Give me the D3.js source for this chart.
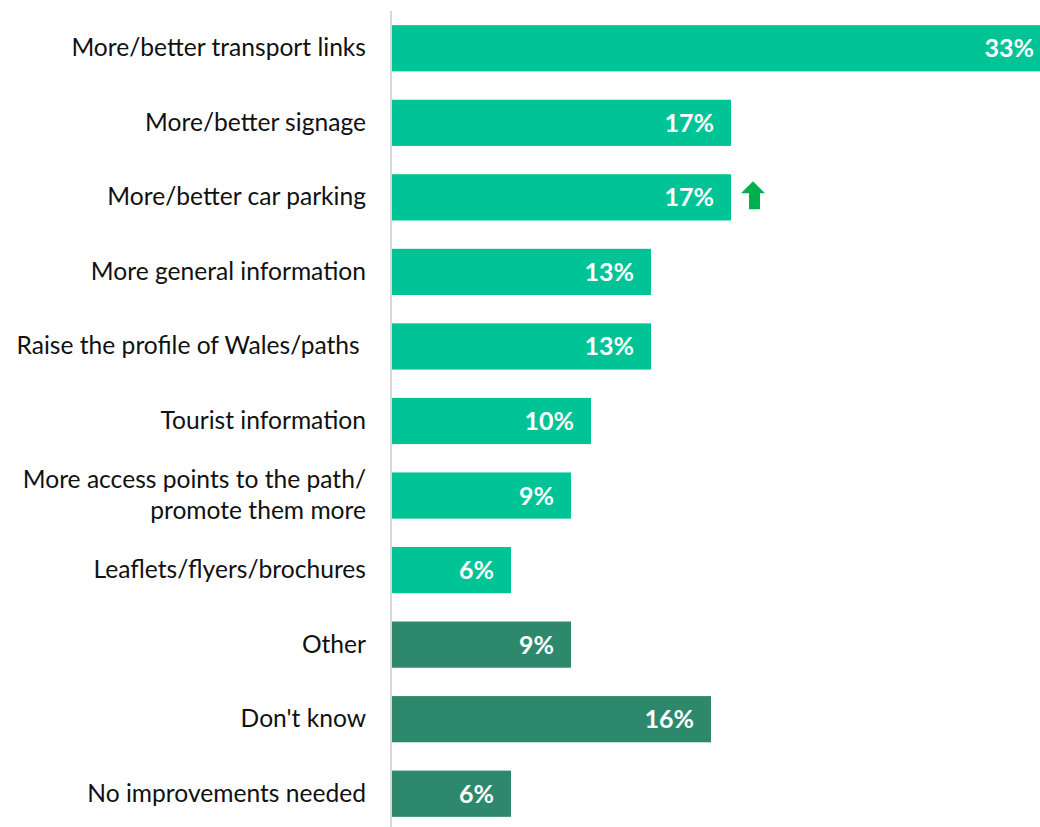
<!DOCTYPE html>
<html>
<head>
<meta charset="utf-8">
<script src="https://cdn.jsdelivr.net/npm/d3@7"></script>
<style>
  html, body { margin: 0; padding: 0; background: #fff; }
  svg { display: block; }
  .cat { font-family: Lato, "Open Sans", sans-serif; font-size: 24.6px; fill: #111; white-space: pre; }
  .val { font-family: Lato, "Open Sans", sans-serif; font-size: 25px; font-weight: 700; fill: #fff; }
</style>
</head>
<body>
<script>
// Suggested improvements and share of respondents (%)
const categories = [
  "More/better transport links",
  "More/better signage",
  "More/better car parking",
  "More general information",
  "Raise the profile of Wales/paths ",
  "Tourist information",
  "More access points to the path/\npromote them more",
  "Leaflets/flyers/brochures",
  "Other",
  "Don't know",
  "No improvements needed"
];
const values = [33, 17, 17, 13, 13, 10, 9, 6, 9, 16, 6];
const valueLabels = ["33%", "17%", "17%", "13%", "13%", "10%", "9%", "6%", "9%", "16%", "6%"];
// Group: improvement suggestions vs. other responses
const groups = ["main", "main", "main", "main", "main", "main", "main", "main", "other", "other", "other"];
// Significantly higher than previous wave
const sigUp = ["More/better car parking"];

const W = 1040, H = 827;
const axisX = 391;

const svg = d3.select("body").append("svg")
  .attr("width", W).attr("height", H);

const x = d3.scaleLinear().domain([0, 33]).range([axisX, axisX + 660]);
const y = d3.scaleBand().domain(categories).range([11, 831])
  .paddingInner(0.38).paddingOuter(0.19);
const colour = d3.scaleOrdinal().domain(["main", "other"]).range(["#00c496", "#2e896c"]);

const data = categories.map((c, i) => ({ cat: c, v: values[i], lab: valueLabels[i], g: groups[i] }));

// bars
svg.append("g").selectAll("rect").data(data).join("rect")
  .attr("x", x(0) + 1)
  .attr("y", d => y(d.cat))
  .attr("width", d => x(d.v) - x(0) - 1)
  .attr("height", y.bandwidth())
  .attr("fill", d => colour(d.g));

// vertical axis line
svg.append("line")
  .attr("x1", axisX).attr("x2", axisX)
  .attr("y1", 11).attr("y2", H)
  .attr("stroke", "#d9d9d9").attr("stroke-width", 2);

// category labels
const lineH = 31;
svg.append("g").selectAll("text").data(data).join("text")
  .attr("class", "cat")
  .attr("text-anchor", "end")
  .attr("x", 366)
  .attr("y", d => y(d.cat) + y.bandwidth() / 2)
  .each(function (d) {
    const lines = d.cat.split("\n");
    const t = d3.select(this);
    lines.forEach((ln, k) => {
      t.append("tspan")
        .attr("x", 366)
        .attr("dy", k === 0 ? ((-(lines.length - 1) / 2) * lineH + 8) : lineH)
        .text(ln);
    });
  });

// value labels inside bars
svg.append("g").selectAll("text").data(data).join("text")
  .attr("class", "val")
  .attr("text-anchor", "end")
  .attr("x", d => x(d.v) - 17)
  .attr("y", d => y(d.cat) + y.bandwidth() / 2 + 9)
  .text(d => d.lab);

// significance arrows
const arrowPath = "M0,0 L12,12 L7,12 L7,28 L-4,28 L-4,12 L-12,12 Z";
svg.append("g").selectAll("path").data(data.filter(d => sigUp.includes(d.cat))).join("path")
  .attr("d", arrowPath)
  .attr("transform", d => `translate(${x(d.v) + 22},${y(d.cat) + y.bandwidth() / 2 - 16})`)
  .attr("fill", "#00b050");
</script>
</body>
</html>
